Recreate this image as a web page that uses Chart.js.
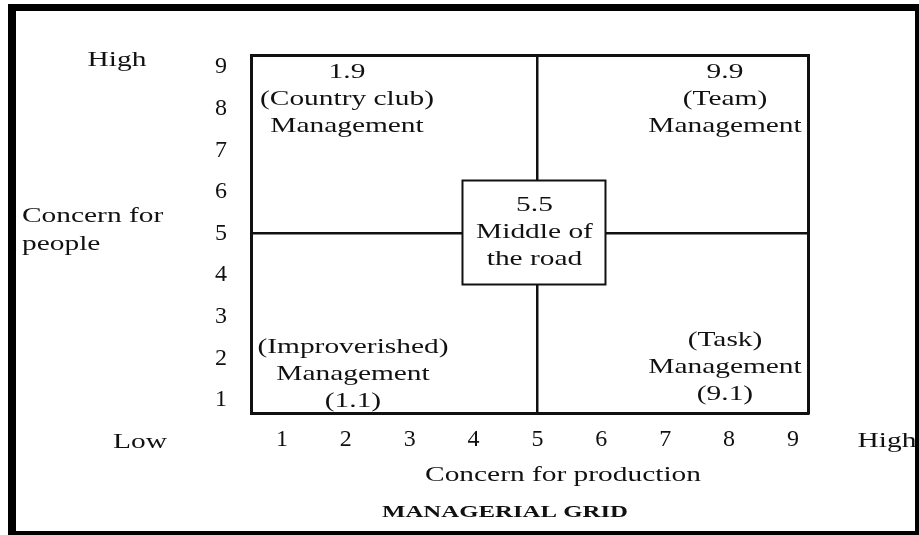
<!DOCTYPE html>
<html>
<head>
<meta charset="utf-8">
<title>Managerial Grid</title>
<script src="https://cdn.jsdelivr.net/npm/chart.js@4.4.1/dist/chart.umd.min.js"></script>
<style>
  html, body { margin: 0; padding: 0; background: #fff; overflow: hidden; }
  canvas { display: block; }
</style>
</head>
<body>
<canvas id="gridChart" width="919" height="535"></canvas>
<script>
// Axis ticks (1 = low concern, 9 = high concern)
const productionTicks = [1, 2, 3, 4, 5, 6, 7, 8, 9];
const peopleTicks = [1, 2, 3, 4, 5, 6, 7, 8, 9];

// The five management styles placed on the grid
const styleProduction = [1, 9, 5, 1, 9];
const stylePeople = [9, 9, 5, 1, 1];
const styleNames = [
  ['1.9', '(Country club)', 'Management'],
  ['9.9', '(Team)', 'Management'],
  ['5.5', 'Middle of', 'the road'],
  ['(Improverished)', 'Management', '(1.1)'],
  ['(Task)', 'Management', '(9.1)']
];

const INK = '#111';
const SERIF = '"Liberation Serif", "Times New Roman", serif';
const STRETCH = 1.4;   // the scan is wider than a normal serif face

function stretchedText(ctx, text, x, y, opts) {
  opts = opts || {};
  ctx.save();
  ctx.translate(x, y);
  ctx.scale(opts.sx || STRETCH, 1);
  ctx.font = opts.font || ('21px ' + SERIF);
  ctx.fillStyle = INK;
  ctx.textAlign = opts.align || 'center';
  ctx.textBaseline = 'middle';
  ctx.fillText(text, 0, 0);
  ctx.restore();
}

// where each text block sits relative to its style point
const blockOffsets = [
  { dx: 65, dy: 5 },
  { dx: -68, dy: 5 },
  { dx: -3, dy: -28 },
  { dx: 71, dy: -53 },
  { dx: -68, dy: -60 }
];

const gridLabels = {
  id: 'gridLabels',
  beforeDraw(chart) {
    const ctx = chart.ctx;
    ctx.save();
    ctx.fillStyle = '#fff';
    ctx.fillRect(0, 0, chart.width, chart.height);
    ctx.restore();
  },
  afterDatasetsDraw(chart) {
    const ctx = chart.ctx;
    const pts = chart.getDatasetMeta(0).data;
    // middle of the road box covers the crossing of the two mid lines
    const mid = pts[2];
    ctx.save();
    ctx.fillStyle = '#fff';
    ctx.strokeStyle = INK;
    ctx.lineWidth = 2;
    ctx.fillRect(mid.x - 75, mid.y - 53, 143, 104);
    ctx.strokeRect(mid.x - 75, mid.y - 53, 143, 104);
    ctx.restore();

    pts.forEach((p, i) => {
      const off = blockOffsets[i];
      styleNames[i].forEach((line, j) => {
        stretchedText(ctx, line, p.x + off.dx, p.y + off.dy + j * 27);
      });
    });
  },
  afterDraw(chart) {
    const ctx = chart.ctx;
    stretchedText(ctx, 'High', 117, 60);
    stretchedText(ctx, 'Concern for', 22, 216, { align: 'left' });
    stretchedText(ctx, 'people', 22, 244, { align: 'left' });
    stretchedText(ctx, 'Low', 140, 442);
    stretchedText(ctx, 'High', 887, 441);
    stretchedText(ctx, 'Concern for production', 563, 475);
    stretchedText(ctx, 'MANAGERIAL GRID', 505, 513, { font: 'bold 16px ' + SERIF, sx: 1.55 });

    // heavy scanned frame
    ctx.save();
    ctx.fillStyle = '#000';
    ctx.fillRect(8, 4, 8, 531);
    ctx.fillRect(8, 4, 911, 7);
    ctx.fillRect(915, 4, 4, 531);
    ctx.fillRect(8, 531, 911, 4);
    ctx.restore();
  }
};

const midLine = ctx => (ctx.tick && ctx.tick.value === 5) ? INK : 'rgba(0,0,0,0)';
const tickFont = { family: SERIF, size: 24 };

new Chart(document.getElementById('gridChart'), {
  type: 'scatter',
  data: {
    datasets: [{
      label: 'Management styles',
      data: styleProduction.map((x, i) => ({ x: x, y: stylePeople[i] })),
      pointRadius: 0,
      pointHoverRadius: 0
    }]
  },
  options: {
    responsive: false,
    animation: false,
    devicePixelRatio: 1,
    layout: { padding: { left: 191, top: 55, right: 111, bottom: 0 } },
    plugins: { legend: { display: false }, tooltip: { enabled: false } },
    scales: {
      x: {
        type: 'linear', position: 'bottom', min: 0.515, max: 9.235,
        afterBuildTicks: s => { s.ticks = productionTicks.map(v => ({ value: v })); },
        afterFit: s => { s.height = 122; },
        ticks: { font: tickFont, color: INK, padding: 12, maxRotation: 0 },
        grid: { color: midLine, lineWidth: 2.5, drawTicks: false },
        border: { display: true, color: INK, width: 3 }
      },
      y: {
        type: 'linear', position: 'left', min: 0.688, max: 9.288,
        afterBuildTicks: s => { s.ticks = peopleTicks.map(v => ({ value: v })); },
        afterFit: s => { s.width = 60; },
        ticks: { font: tickFont, color: INK, padding: 24 },
        grid: { color: midLine, lineWidth: 2.5, drawTicks: false },
        border: { display: true, color: INK, width: 3 }
      },
      xTop: {
        type: 'linear', position: 'top', min: 0.515, max: 9.235,
        afterFit: s => { s.height = 0; },
        ticks: { display: false },
        grid: { display: false, drawTicks: false },
        border: { display: true, color: INK, width: 3 }
      },
      yRight: {
        type: 'linear', position: 'right', min: 0.688, max: 9.288,
        afterFit: s => { s.width = 0; },
        ticks: { display: false },
        grid: { display: false, drawTicks: false },
        border: { display: true, color: INK, width: 3 }
      }
    }
  },
  plugins: [gridLabels]
});
</script>
</body>
</html>
